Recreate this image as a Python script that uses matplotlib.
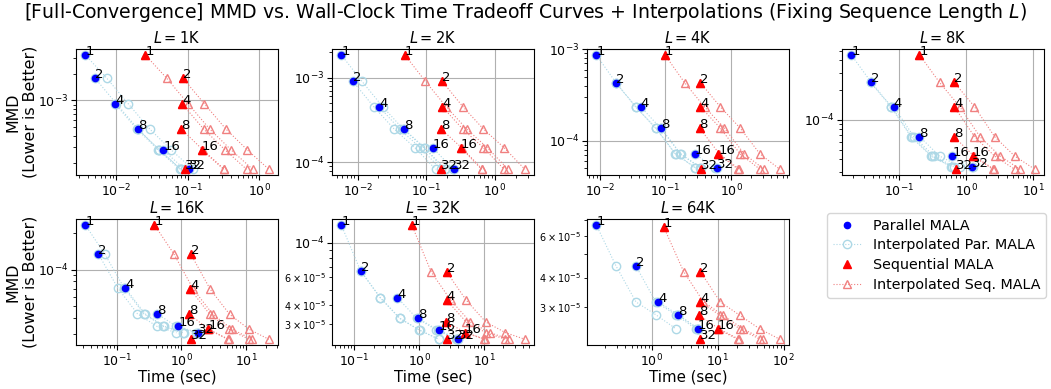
import numpy as np
import matplotlib.pyplot as plt

# sequence lengths / batch sizes
seq_lens = ['1K', '2K', '4K', '8K', '16K', '32K', '64K']
batch_sizes = [1, 2, 4, 8, 16, 32]

# parallel MALA: wall-clock time (sec) and MMD per batch size
par_time = [
    [0.00365, 0.0050, 0.0096, 0.0199, 0.045, 0.103],
    [0.00578, 0.00855, 0.0205, 0.0474, 0.124, 0.255],
    [0.0089, 0.0177, 0.0422, 0.0855, 0.279, 0.607],
    [0.019, 0.037, 0.082, 0.199, 0.62, 1.21],
    [0.0328, 0.0524, 0.137, 0.419, 0.90, 1.82],
    [0.063, 0.127, 0.464, 0.977, 2.0, 3.94],
    [0.145, 0.58, 1.26, 2.52, 5.05],
]
par_mmd = [
    [3.25e-3, 1.78e-3, 9.2e-4, 4.8e-4, 2.8e-4, 1.7e-4],
    [1.86e-3, 9.06e-4, 4.56e-4, 2.47e-4, 1.49e-4, 8.3e-5],
    [8.7e-4, 4.3e-4, 2.35e-4, 1.38e-4, 7.2e-5, 5.1e-5],
    [4.54e-4, 2.38e-4, 1.36e-4, 6.76e-5, 4.3e-5, 3.36e-5],
    [2.32e-4, 1.34e-4, 7.05e-5, 4.36e-5, 3.44e-5, 3.05e-5],
    [1.31e-4, 6.59e-5, 4.44e-5, 3.27e-5, 2.75e-5, 2.4e-5],
    [6.67e-5, 4.47e-5, 3.16e-5, 2.79e-5, 2.44e-5],
]

# sequential MALA
seq_time = [
    [0.0252, 0.085, 0.083, 0.081, 0.158, 0.09],
    [0.0485, 0.170, 0.170, 0.164, 0.319, 0.165],
    [0.098, 0.34, 0.34, 0.33, 0.636, 0.35],
    [0.199, 0.66, 0.66, 0.65, 1.25, 0.69],
    [0.382, 1.39, 1.37, 1.33, 2.59, 1.39],
    [0.77, 2.67, 2.67, 2.62, 5.1, 2.67],
    [1.53, 5.48, 5.48, 5.3, 10.1, 5.48],
]
seq_mmd = [
    [3.25e-3, 1.78e-3, 9.2e-4, 4.8e-4, 2.8e-4, 1.7e-4],
    [1.86e-3, 9.06e-4, 4.56e-4, 2.47e-4, 1.49e-4, 8.3e-5],
    [8.7e-4, 4.3e-4, 2.35e-4, 1.38e-4, 7.2e-5, 4.9e-5],
    [4.54e-4, 2.38e-4, 1.36e-4, 6.76e-5, 4.3e-5, 3.16e-5],
    [2.32e-4, 1.34e-4, 6.9e-5, 4.3e-5, 3.25e-5, 2.7e-5],
    [1.31e-4, 6.5e-5, 4.28e-5, 3.1e-5, 2.65e-5, 2.4e-5],
    [6.52e-5, 4.24e-5, 3.16e-5, 2.77e-5, 2.43e-5, 2.2e-5],
]


def interp_curves(ax, times, mmds, color, marker):
    # run batch size b_i repeatedly to reach the MMD of batch size b_k
    n = len(times)
    for i in range(n):
        xs = [times[i] * batch_sizes[k] / batch_sizes[i] for k in range(i, n)]
        ys = mmds[i:n]
        ax.plot(xs, ys, linestyle=':', lw=0.8, color=color, marker=marker,
                mfc='none', mec=color, ms=6, zorder=2)


fig = plt.figure(figsize=(10.51, 3.89), dpi=100)
W, H = 1051.0, 389.0
lefts = [76, 332, 587, 842]
tops = [49, 219]
aw, ah = 202, 126

par_c = 'lightblue'
seq_c = 'lightcoral'

for idx, L in enumerate(seq_lens):
    r, c = divmod(idx, 4)
    ax = fig.add_axes([lefts[c] / W, 1 - (tops[r] + ah) / H, aw / W, ah / H])
    pt, pm = par_time[idx], par_mmd[idx]
    st, sm = seq_time[idx], seq_mmd[idx]

    interp_curves(ax, pt, pm, par_c, 'o')
    interp_curves(ax, st, sm, seq_c, '^')
    ax.plot(pt, pm, 'o', color='blue', ms=4.5, ls='none', zorder=3)
    ax.plot(st, sm, '^', color='red', ms=5.5, ls='none', zorder=3)
    for b, x, y in zip(batch_sizes, pt, pm):
        ax.text(x, y, str(b), fontsize=9.5, zorder=4)
    for b, x, y in zip(batch_sizes, st, sm):
        ax.text(x, y, str(b), fontsize=9.5, zorder=4)

    ax.set_xscale('log')
    ax.set_yscale('log')
    ax.grid(True)
    ax.set_title('$L = $' + L, fontsize=10.5, pad=4)
    ax.tick_params(which='major', labelsize=9, pad=2)
    ax.tick_params(which='minor', labelsize=7, pad=2)
    if c == 0:
        ax.set_ylabel('MMD\n(Lower is Better)', fontsize=11.4)
        ax.yaxis.set_label_coords(-0.19, 0.5)
    if r == 1:
        ax.set_xlabel('Time (sec)', fontsize=10.8, labelpad=0)

handles = [
    plt.Line2D([], [], marker='o', color='blue', ls='none', ms=4.5),
    plt.Line2D([], [], marker='o', color=par_c, ls=':', lw=0.8, mfc='none', ms=6),
    plt.Line2D([], [], marker='^', color='red', ls='none', ms=5.5),
    plt.Line2D([], [], marker='^', color=seq_c, ls=':', lw=0.8, mfc='none', ms=6),
]
labels = ['Parallel MALA', 'Interpolated Par. MALA', 'Sequential MALA', 'Interpolated Seq. MALA']
fig.legend(handles, labels, loc='upper left', bbox_to_anchor=(827 / W, 1 - 213 / H),
           fontsize=10.3, labelspacing=0.4, borderaxespad=0)

fig.text(0.5, 1 - 13 / H,
         '[Full-Convergence] MMD vs. Wall-Clock Time Tradeoff Curves + Interpolations (Fixing Sequence Length $L$)',
         ha='center', va='center', fontsize=13.6)

plt.savefig('out.png', dpi=100)
